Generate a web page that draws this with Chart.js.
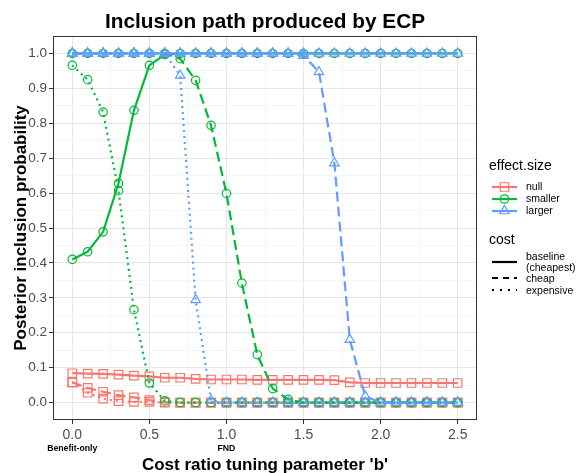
<!DOCTYPE html>
<html>
<head>
<meta charset="utf-8">
<script src="https://cdn.jsdelivr.net/npm/chart.js@4.4.1/dist/chart.umd.min.js"></script>
<style>
  html, body { margin: 0; padding: 0; background: #ffffff; }
</style>
</head>
<body>
<canvas id="graficoRuta" width="576" height="473"></canvas>
<script>
// Valores del parámetro b (eje X)
var valoresB = [0, 0.1, 0.2, 0.3, 0.4, 0.5, 0.6, 0.7, 0.8, 0.9, 1.0, 1.1, 1.2, 1.3, 1.4, 1.5, 1.6, 1.7, 1.8, 1.9, 2.0, 2.1, 2.2, 2.3, 2.4, 2.5];

// Probabilidades de inclusión
var nullBaseline = [0.084, 0.083, 0.082, 0.080, 0.077, 0.075, 0.071, 0.071, 0.068, 0.066, 0.066, 0.066, 0.065, 0.065, 0.065, 0.065, 0.065, 0.064, 0.058, 0.056, 0.056, 0.056, 0.056, 0.056, 0.056, 0.056];
var nullCheap = [0.058, 0.042, 0.031, 0.021, 0.015, 0.007, 0.001, 0, 0, 0, 0, 0, 0, 0, 0, 0, 0, 0, 0, 0, 0, 0, 0, 0, 0, 0];
var nullExpensive = [0.058, 0.028, 0.011, 0.004, 0.002, 0.002, 0, 0, 0, 0, 0, 0, 0, 0, 0, 0, 0, 0, 0, 0, 0, 0, 0, 0, 0, 0];
var smallerBaseline = [0.41, 0.432, 0.489, 0.628, 0.837, 0.966, 0.997, 1, 1, 1, 1, 1, 1, 1, 1, 1, 1, 1, 1, 1, 1, 1, 1, 1, 1, 1];
var smallerCheap = [1, 1, 1, 1, 1, 1, 1, 0.985, 0.923, 0.794, 0.599, 0.342, 0.137, 0.04, 0.009, 0, 0, 0, 0, 0, 0, 0, 0, 0, 0, 0];
var smallerExpensive = [0.966, 0.925, 0.832, 0.607, 0.266, 0.056, 0.005, 0, 0, 0, 0, 0, 0, 0, 0, 0, 0, 0, 0, 0, 0, 0, 0, 0, 0, 0];
var largerBaseline = [1, 1, 1, 1, 1, 1, 1, 1, 1, 1, 1, 1, 1, 1, 1, 1, 1, 1, 1, 1, 1, 1, 1, 1, 1, 1];
var largerCheap = [1, 1, 1, 1, 1, 1, 1, 1, 1, 1, 1, 1, 1, 1, 1, 0.994, 0.947, 0.686, 0.18, 0.018, 0, 0, 0, 0, 0, 0];
var largerExpensive = [1, 1, 1, 1, 1, 1, 1, 0.937, 0.294, 0.006, 0, 0, 0, 0, 0, 0, 0, 0, 0, 0, 0, 0, 0, 0, 0, 0];

// Marcas de los ejes
var ticksX = [0, 0.5, 1.0, 1.5, 2.0, 2.5];
var etiquetasX = ['0.0', '0.5', '1.0', '1.5', '2.0', '2.5'];
var ticksY = [0, 0.1, 0.2, 0.3, 0.4, 0.5, 0.6, 0.7, 0.8, 0.9, 1.0];
var etiquetasY = ['0.0', '0.1', '0.2', '0.3', '0.4', '0.5', '0.6', '0.7', '0.8', '0.9', '1.0'];

// Etiquetas especiales bajo el eje X
var marcasEspeciales = [{ b: 0, texto: 'Benefit-only' }, { b: 1.0, texto: 'FND' }];

// Leyendas
var nombresEfecto = ['null', 'smaller', 'larger'];
var nombresCoste = [['baseline', '(cheapest)'], ['cheap'], ['expensive']];

var colores = { rojo: '#F8766D', verde: '#00BA38', azul: '#619CFF' };
var rayas = { solida: [], guiones: [10, 5], puntos: [2, 4] };
var radios = { rect: 6, circle: 4.2, triangle: 5.5 };
var fuente = '"Liberation Sans", Arial, Helvetica, sans-serif';

Chart.defaults.font.family = fuente;

function crearSerie(nombre, valores, color, raya, forma, orden) {
    return {
        label: nombre,
        data: valoresB.map(function(b, i) { return { x: b, y: valores[i] }; }),
        borderColor: color,
        backgroundColor: 'rgba(0,0,0,0)',
        borderWidth: 2.2,
        borderDash: raya,
        tension: 0,
        pointStyle: forma,
        pointRadius: radios[forma],
        pointBorderWidth: 1.2,
        pointBorderColor: color,
        pointBackgroundColor: 'rgba(0,0,0,0)',
        order: orden
    };
}

function buscarIndice(lista, valor) {
    for (var i = 0; i < lista.length; i++) {
        if (Math.abs(lista[i] - valor) < 1e-6) return i;
    }
    return -1;
}

// Líneas de rejilla mayores + menores (a mitad de camino)
function marcasConMenores(mayores) {
    var res = [];
    for (var i = 0; i < mayores.length; i++) {
        res.push({ value: mayores[i] });
        if (i < mayores.length - 1) res.push({ value: (mayores[i] + mayores[i + 1]) / 2 });
    }
    return res;
}

function dibujarMarcador(ctx, forma, x, y, color) {
    var r = radios[forma];
    ctx.save();
    ctx.strokeStyle = color;
    ctx.lineWidth = 1.2;
    ctx.setLineDash([]);
    ctx.beginPath();
    if (forma === 'rect') {
        var s = r * Math.SQRT1_2;
        ctx.rect(x - s, y - s, 2 * s, 2 * s);
    } else if (forma === 'circle') {
        ctx.arc(x, y, r, 0, Math.PI * 2);
    } else {
        var a = 0;
        ctx.moveTo(x + Math.sin(a) * r, y - Math.cos(a) * r);
        a += Math.PI * 2 / 3;
        ctx.lineTo(x + Math.sin(a) * r, y - Math.cos(a) * r);
        a += Math.PI * 2 / 3;
        ctx.lineTo(x + Math.sin(a) * r, y - Math.cos(a) * r);
        ctx.closePath();
    }
    ctx.stroke();
    ctx.restore();
}

var decoracion = {
    id: 'decoracion',
    afterDatasetsDraw: function(chart) {
        var ctx = chart.ctx;
        var area = chart.chartArea;
        ctx.save();
        ctx.strokeStyle = '#333333';
        ctx.lineWidth = 1;
        ctx.strokeRect(area.left + 0.5, area.top + 0.5, area.right - area.left - 1, area.bottom - area.top - 1);
        ctx.restore();
    },
    afterDraw: function(chart) {
        var ctx = chart.ctx;
        var area = chart.chartArea;
        var escalaX = chart.scales.x;
        var centro = (area.left + area.right) / 2;
        ctx.save();
        ctx.fillStyle = '#000000';

        // Título
        ctx.font = 'bold 20.8px ' + fuente;
        ctx.textAlign = 'center';
        ctx.textBaseline = 'alphabetic';
        ctx.fillText('Inclusion path produced by ECP', centro, 28);

        // Título eje X
        ctx.font = 'bold 17px ' + fuente;
        ctx.fillText("Cost ratio tuning parameter 'b'", centro, 470);

        // Título eje Y
        ctx.save();
        ctx.translate(26, (area.top + area.bottom) / 2);
        ctx.rotate(-Math.PI / 2);
        ctx.fillText('Posterior inclusion probability', 0, 0);
        ctx.restore();

        // Etiquetas especiales
        ctx.font = 'bold 8.7px ' + fuente;
        ctx.textBaseline = 'middle';
        marcasEspeciales.forEach(function(m) {
            ctx.fillText(m.texto, escalaX.getPixelForValue(m.b), 449);
        });

        // Leyenda efecto
        var formas = ['rect', 'circle', 'triangle'];
        var listaColores = [colores.rojo, colores.verde, colores.azul];
        ctx.textAlign = 'left';
        ctx.font = '14px ' + fuente;
        ctx.fillText('effect.size', 489, 166);
        ctx.font = '10.5px ' + fuente;
        for (var i = 0; i < nombresEfecto.length; i++) {
            var y = 187 + i * 12;
            ctx.strokeStyle = listaColores[i];
            ctx.lineWidth = 2.2;
            ctx.beginPath();
            ctx.moveTo(492, y);
            ctx.lineTo(517, y);
            ctx.stroke();
            dibujarMarcador(ctx, formas[i], 504.5, y, listaColores[i]);
            ctx.fillStyle = '#000000';
            ctx.fillText(nombresEfecto[i], 526, y);
        }

        // Leyenda coste
        ctx.font = '14px ' + fuente;
        ctx.fillText('cost', 489, 240);
        ctx.font = '10.5px ' + fuente;
        var rayasLeyenda = [rayas.solida, [6, 5], [2, 6]];
        var yLineas = [262, 278, 290];
        var yTextos = [[257, 268], [279], [291]];
        for (var j = 0; j < nombresCoste.length; j++) {
            ctx.strokeStyle = '#000000';
            ctx.lineWidth = 2.2;
            ctx.setLineDash(rayasLeyenda[j]);
            ctx.beginPath();
            ctx.moveTo(492, yLineas[j]);
            ctx.lineTo(517, yLineas[j]);
            ctx.stroke();
            ctx.setLineDash([]);
            for (var k = 0; k < nombresCoste[j].length; k++) {
                ctx.fillText(nombresCoste[j][k], 526, yTextos[j][k]);
            }
        }
        ctx.restore();
    }
};

var colorRejilla = function(contexto) {
    var v = contexto.tick ? contexto.tick.value : 0;
    var esMayor = buscarIndice(ticksX, v) >= 0 || buscarIndice(ticksY, v) >= 0;
    return esMayor ? '#E6E6E6' : '#F2F2F2';
};

var config = {
    type: 'line',
    data: {
        datasets: [
            crearSerie('null baseline', nullBaseline, colores.rojo, rayas.solida, 'rect', 3),
            crearSerie('null cheap', nullCheap, colores.rojo, rayas.guiones, 'rect', 3),
            crearSerie('null expensive', nullExpensive, colores.rojo, rayas.puntos, 'rect', 3),
            crearSerie('smaller baseline', smallerBaseline, colores.verde, rayas.solida, 'circle', 2),
            crearSerie('smaller cheap', smallerCheap, colores.verde, rayas.guiones, 'circle', 2),
            crearSerie('smaller expensive', smallerExpensive, colores.verde, rayas.puntos, 'circle', 2),
            crearSerie('larger baseline', largerBaseline, colores.azul, rayas.solida, 'triangle', 1),
            crearSerie('larger cheap', largerCheap, colores.azul, rayas.guiones, 'triangle', 1),
            crearSerie('larger expensive', largerExpensive, colores.azul, rayas.puntos, 'triangle', 1)
        ]
    },
    options: {
        responsive: false,
        devicePixelRatio: 1,
        animation: false,
        layout: { padding: { left: 0, right: 99, top: 36, bottom: 0 } },
        plugins: {
            legend: { display: false },
            tooltip: { enabled: false },
            title: { display: false }
        },
        scales: {
            x: {
                type: 'linear',
                min: -0.125,
                max: 2.625,
                afterBuildTicks: function(escala) { escala.ticks = marcasConMenores(ticksX); },
                afterFit: function(escala) { escala.height = 53; },
                border: { display: false },
                grid: {
                    color: colorRejilla,
                    lineWidth: function(c) { return buscarIndice(ticksX, c.tick.value) >= 0 ? 1 : 0.7; },
                    tickColor: function(c) { return buscarIndice(ticksX, c.tick.value) >= 0 ? '#333333' : 'rgba(0,0,0,0)'; },
                    tickLength: 4,
                    tickWidth: 1
                },
                ticks: {
                    autoSkip: false,
                    maxRotation: 0,
                    padding: 3,
                    color: '#4D4D4D',
                    font: { size: 14 },
                    callback: function(valor) {
                        var i = buscarIndice(ticksX, valor);
                        return i >= 0 ? etiquetasX[i] : '';
                    }
                }
            },
            y: {
                type: 'linear',
                min: -0.05,
                max: 1.05,
                afterBuildTicks: function(escala) { escala.ticks = marcasConMenores(ticksY); },
                afterFit: function(escala) { escala.width = 53; },
                border: { display: false },
                grid: {
                    color: colorRejilla,
                    lineWidth: function(c) { return buscarIndice(ticksY, c.tick.value) >= 0 ? 1 : 0.7; },
                    tickColor: function(c) { return buscarIndice(ticksY, c.tick.value) >= 0 ? '#333333' : 'rgba(0,0,0,0)'; },
                    tickLength: 4,
                    tickWidth: 1
                },
                ticks: {
                    autoSkip: false,
                    padding: 2,
                    color: '#4D4D4D',
                    font: { size: 13.5 },
                    callback: function(valor) {
                        var i = buscarIndice(ticksY, valor);
                        return i >= 0 ? etiquetasY[i] : '';
                    }
                }
            }
        }
    },
    plugins: [decoracion]
};

var lienzo = document.getElementById('graficoRuta');
var grafico = new Chart(lienzo.getContext('2d'), config);
</script>
</body>
</html>
